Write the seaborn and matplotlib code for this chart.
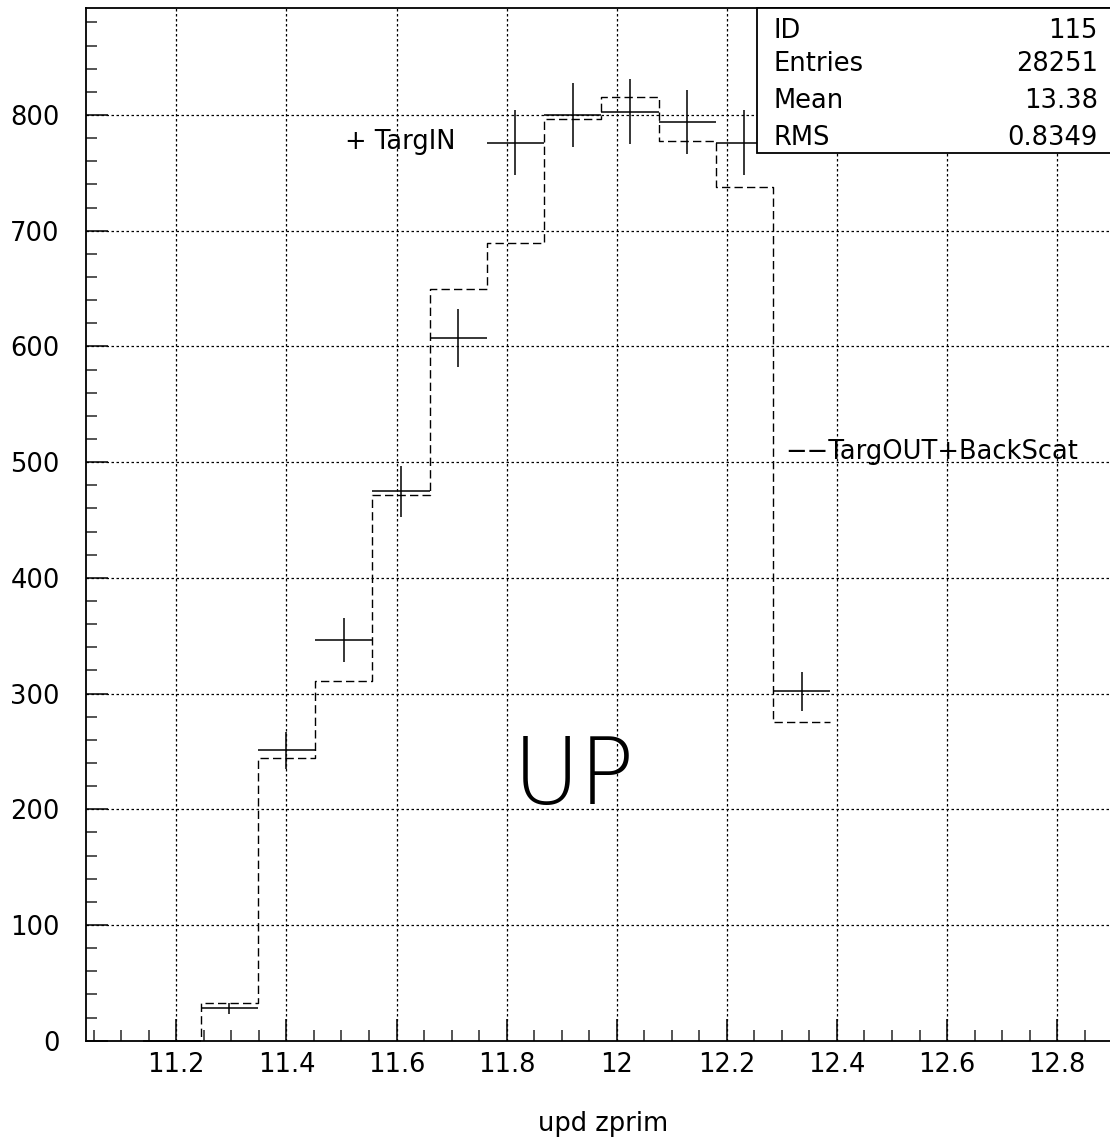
import numpy as np
import pandas as pd
import matplotlib
matplotlib.use("Agg")
import matplotlib.pyplot as plt
import seaborn as sns
from matplotlib.patches import Rectangle

# histogram binning (upd zprim), bins of width 0.104 starting at 11.14
bin_start = 11.14
bin_width = 0.104
n_bins = 12

# TargOUT+BackScat (dashed histogram)
out_counts = [0, 33, 244, 311, 472, 650, 689, 797, 816, 778, 738, 275]
# TargIN (crosses with errors)
in_counts = [0, 28, 251, 346, 475, 607, 776, 800, 803, 794, 776, 302]
in_errors = [0, 5, 16, 19, 22, 25, 28, 28, 28, 28, 28, 17]

# statistics box
stat_names = ["ID", "Entries", "Mean", "RMS"]
stat_values = ["115", "28251", "13.38", "0.8349"]

x_ticks = [11.2, 11.4, 11.6, 11.8, 12.0, 12.2, 12.4, 12.6, 12.8]
x_ticklabels = ["11.2", "11.4", "11.6", "11.8", "12", "12.2", "12.4", "12.6", "12.8"]
y_ticks = [0, 100, 200, 300, 400, 500, 600, 700, 800]

sns.set_style("ticks")
plt.rcParams['font.family'] = ['DejaVu Sans']
plt.rcParams['text.color'] = 'black'
plt.rcParams['axes.labelcolor'] = 'black'

edges = bin_start + bin_width * np.arange(n_bins + 1)
centers = (edges[:-1] + edges[1:]) / 2
df_out = pd.DataFrame({"zprim": centers, "counts": out_counts})

fig = plt.figure(figsize=(11.1, 11.46), dpi=100)
ax = fig.add_axes([0.0775, 0.0919, 0.9225, 0.9011])

# grid
for xt in x_ticks:
    ax.axvline(xt, color="black", lw=0.9, ls=(0, (2, 2)), zorder=0)
for yt in y_ticks[1:]:
    ax.axhline(yt, color="black", lw=0.9, ls=(0, (2, 2)), zorder=0)

# dashed histogram
sns.histplot(data=df_out, x="zprim", weights="counts", bins=list(edges),
             element="step", fill=False, color="black", linewidth=1.0,
             linestyle=(0, (6, 3)), ax=ax, zorder=2)

# crosses
eb = ax.errorbar(centers, in_counts, xerr=bin_width / 2, yerr=in_errors, fmt="none",
                 ecolor="black", elinewidth=1.1, capsize=0, zorder=3)
for coll in eb[2]:
    coll.set_clip_on(False)

ax.set_xlim(11.036, 12.896)
ax.set_ylim(0, 892.5)
ax.set_xticks(x_ticks)
ax.set_xticklabels(x_ticklabels)
ax.set_xticks(np.arange(11.05, 12.9, 0.05), minor=True)
ax.set_yticks(y_ticks)
ax.set_yticks(np.arange(0, 881, 20), minor=True)
ax.tick_params(axis="both", which="major", direction="in", length=16, width=1.1,
               labelsize=18.5, colors="black")
ax.tick_params(axis="both", which="minor", direction="in", length=7.7, width=1.1)
ax.tick_params(axis="y", which="major", pad=19)
ax.tick_params(axis="x", which="major", pad=8)
ax.set_xlabel("upd zprim", fontsize=18.5)
ax.xaxis.set_label_coords(0.505, -0.068)
ax.set_ylabel("")
ax.spines["right"].set_visible(False)
for s in ["left", "bottom", "top"]:
    ax.spines[s].set_linewidth(1.3)
    ax.spines[s].set_color("black")

# annotations
ax.text(11.506, 777, "+ TargIN", fontsize=18.5, va="center", ha="left", zorder=4)
ax.text(12.306, 509, "−−TargOUT+BackScat", fontsize=18.5, va="center", ha="left", zorder=4)
ax.text(11.922, 227, "UP", fontsize=66, va="center", ha="center", fontweight="light", zorder=4)

# stats box
box_left, box_bottom = 0.6556, 0.8596
ax.add_patch(Rectangle((box_left, box_bottom), 1 - box_left + 0.01, 1 - box_bottom,
                       transform=ax.transAxes, fill=True, facecolor="white",
                       edgecolor="black", lw=1.3, zorder=5, clip_on=False))
row_y = [0.978, 0.946, 0.910, 0.874]
for name, val, yy in zip(stat_names, stat_values, row_y):
    ax.text(0.671, yy, name, transform=ax.transAxes, fontsize=18.5, va="center",
            ha="left", zorder=6)
    ax.text(0.988, yy, val, transform=ax.transAxes, fontsize=18.5, va="center",
            ha="right", zorder=6)

fig.savefig("out.png", dpi=100)
